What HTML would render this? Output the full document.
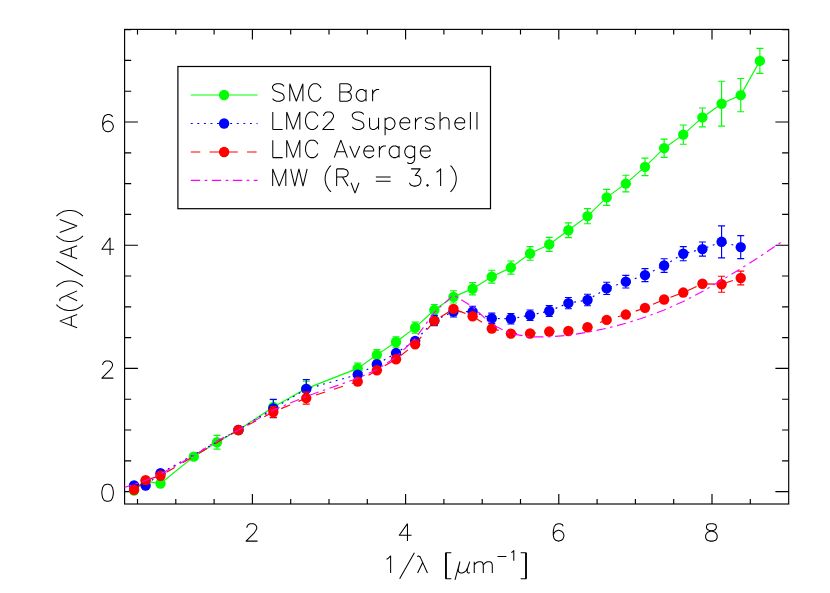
<!DOCTYPE html>
<html><head><meta charset="utf-8"><title>Extinction curves</title>
<style>html,body{margin:0;padding:0;background:#fff;font-family:"Liberation Sans",sans-serif}svg{display:block}</style>
</head><body>
<svg width="830" height="593" viewBox="0 0 830 593">
<rect x="0" y="0" width="830" height="593" fill="#fff"/>
<g stroke="#000" stroke-width="1.15" fill="none" stroke-linecap="butt">
<rect x="124.6" y="29.4" width="664.1" height="474.6"/>
<path d="M137.5 504v-5M137.5 29.4v5M175.8 504v-5M175.8 29.4v5M214.1 504v-5M214.1 29.4v5M252.4 504v-10M252.4 29.4v10M290.7 504v-5M290.7 29.4v5M329 504v-5M329 29.4v5M367.3 504v-5M367.3 29.4v5M405.6 504v-10M405.6 29.4v10M443.9 504v-5M443.9 29.4v5M482.2 504v-5M482.2 29.4v5M520.5 504v-5M520.5 29.4v5M558.8 504v-10M558.8 29.4v10M597.1 504v-5M597.1 29.4v5M635.4 504v-5M635.4 29.4v5M673.7 504v-5M673.7 29.4v5M712 504v-10M712 29.4v10M750.3 504v-5M750.3 29.4v5M124.6 491.6h13.3M788.7 491.6h-13.3M124.6 460.8h6.6M788.7 460.8h-6.6M124.6 430h6.6M788.7 430h-6.6M124.6 399.2h6.6M788.7 399.2h-6.6M124.6 368.4h13.3M788.7 368.4h-13.3M124.6 337.6h6.6M788.7 337.6h-6.6M124.6 306.8h6.6M788.7 306.8h-6.6M124.6 276h6.6M788.7 276h-6.6M124.6 245.2h13.3M788.7 245.2h-13.3M124.6 214.4h6.6M788.7 214.4h-6.6M124.6 183.6h6.6M788.7 183.6h-6.6M124.6 152.8h6.6M788.7 152.8h-6.6M124.6 122h13.3M788.7 122h-13.3M124.6 91.2h6.6M788.7 91.2h-6.6M124.6 60.4h6.6M788.7 60.4h-6.6M124.6 29.6h6.6M788.7 29.6h-6.6"/>
</g>
<defs><clipPath id="c"><rect x="124.6" y="29.4" width="664.1" height="474.6"/></clipPath></defs>
<g clip-path="url(#c)">
<g stroke="#00ff00" fill="none" stroke-width="1.15">
<polyline points="134.05,490.61 145.62,481.19 160.48,483.53 193.8,456.67 217.01,442.26 238.46,430 273.31,406.96 306.25,388.6 357.72,368.4 376.87,354.85 396.02,342.04 415.17,327.68 434.32,310.06 453.47,296.88 472.62,288.75 491.77,276.68 510.92,267.56 530.07,253.45 549.23,244.4 568.38,230.23 587.52,216.12 606.67,197.4 625.83,183.6 644.98,166.84 664.12,148.18 683.27,134.63 702.42,117.44 721.58,103.7 740.73,95.14 759.88,60.89"/>
<path d="M217.01 435.36V449.16M213.51 435.36H220.51M213.51 449.16H220.51M273.31 399.57V414.35M269.81 399.57H276.81M269.81 414.35H276.81M306.25 381.21V396M302.75 381.21H309.75M302.75 396H309.75M357.72 363.16V373.64M354.22 363.16H361.22M354.22 373.64H361.22M376.87 349.67V360.02M373.37 349.67H380.37M373.37 360.02H380.37M396.02 336.86V347.21M392.52 336.86H399.52M392.52 347.21H399.52M415.17 322.14V333.23M411.67 322.14H418.67M411.67 333.23H418.67M434.32 304.46V315.67M430.82 304.46H437.82M430.82 315.67H437.82M453.47 290.78V302.98M449.97 290.78H456.97M449.97 302.98H456.97M472.62 282.59V294.91M469.12 282.59H476.12M469.12 294.91H476.12M491.77 270.27V283.08M488.27 270.27H495.27M488.27 283.08H495.27M510.92 260.97V274.15M507.42 260.97H514.42M507.42 274.15H514.42M530.07 246.62V260.29M526.57 246.62H533.57M526.57 260.29H533.57M549.23 237.44V251.36M545.73 237.44H552.73M545.73 251.36H552.73M568.38 222.9V237.56M564.88 222.9H571.88M564.88 237.56H571.88M587.52 208.55V223.7M584.02 208.55H591.02M584.02 223.7H591.02M606.67 189.39V205.41M603.17 189.39H610.17M603.17 205.41H610.17M625.83 175.28V191.92M622.33 175.28H629.33M622.33 191.92H629.33M644.98 158.1V175.59M641.48 158.1H648.48M641.48 175.59H648.48M664.12 139.06V157.3M660.62 139.06H667.62M660.62 157.3H667.62M683.27 125.02V144.24M679.77 125.02H686.77M679.77 144.24H686.77M702.42 107.96V126.93M698.92 107.96H705.92M698.92 126.93H705.92M721.58 81.22V126.19M718.08 81.22H725.08M718.08 126.19H725.08M740.73 78.51V111.77M737.23 78.51H744.23M737.23 111.77H744.23M759.88 48.39V73.4M756.38 48.39H763.38M756.38 73.4H763.38"/>
</g>
<g fill="#00ff00">
<circle cx="134.05" cy="490.61" r="5.2"/>
<circle cx="145.62" cy="481.19" r="5.2"/>
<circle cx="160.48" cy="483.53" r="5.2"/>
<circle cx="193.8" cy="456.67" r="5.2"/>
<circle cx="217.01" cy="442.26" r="5.2"/>
<circle cx="238.46" cy="430" r="5.2"/>
<circle cx="273.31" cy="406.96" r="5.2"/>
<circle cx="306.25" cy="388.6" r="5.2"/>
<circle cx="357.72" cy="368.4" r="5.2"/>
<circle cx="376.87" cy="354.85" r="5.2"/>
<circle cx="396.02" cy="342.04" r="5.2"/>
<circle cx="415.17" cy="327.68" r="5.2"/>
<circle cx="434.32" cy="310.06" r="5.2"/>
<circle cx="453.47" cy="296.88" r="5.2"/>
<circle cx="472.62" cy="288.75" r="5.2"/>
<circle cx="491.77" cy="276.68" r="5.2"/>
<circle cx="510.92" cy="267.56" r="5.2"/>
<circle cx="530.07" cy="253.45" r="5.2"/>
<circle cx="549.23" cy="244.4" r="5.2"/>
<circle cx="568.38" cy="230.23" r="5.2"/>
<circle cx="587.52" cy="216.12" r="5.2"/>
<circle cx="606.67" cy="197.4" r="5.2"/>
<circle cx="625.83" cy="183.6" r="5.2"/>
<circle cx="644.98" cy="166.84" r="5.2"/>
<circle cx="664.12" cy="148.18" r="5.2"/>
<circle cx="683.27" cy="134.63" r="5.2"/>
<circle cx="702.42" cy="117.44" r="5.2"/>
<circle cx="721.58" cy="103.7" r="5.2"/>
<circle cx="740.73" cy="95.14" r="5.2"/>
<circle cx="759.88" cy="60.89" r="5.2"/>
</g>
<g stroke="#0000ff" fill="none" stroke-width="1.15">
<polyline points="134.05,485.38 145.62,485.62 160.48,473.18 238.46,430 273.31,408.5 306.25,389.04 357.72,374.62 376.87,364.27 396.02,353.06 415.17,340.86 434.32,320.54 453.47,311.6 472.62,311.67 491.77,318.38 510.92,318.81 530.07,315.24 549.23,310.99 568.38,303.1 587.52,300.02 606.67,288.38 625.83,281.67 644.98,275.08 664.12,265.53 683.27,253.7 702.42,249.08 721.58,241.81 740.73,247.11" stroke-dasharray="1.9 4.67" stroke-dashoffset="0"/>
<path d="M273.31 399.32V417.68M269.81 399.32H276.81M269.81 417.68H276.81M306.25 379.67V398.4M302.75 379.67H309.75M302.75 398.4H309.75M434.32 315.4V325.67M430.82 315.4H437.82M430.82 325.67H437.82M453.47 306.2V317M449.97 306.2H456.97M449.97 317H456.97M472.62 306.27V317.06M469.12 306.27H476.12M469.12 317.06H476.12M491.77 313.18V323.58M488.27 313.18H495.27M488.27 323.58H495.27M510.92 313.63V324M507.42 313.63H514.42M507.42 324H514.42M530.07 309.95V320.53M526.57 309.95H533.57M526.57 320.53H533.57M549.23 305.57V316.41M545.73 305.57H552.73M545.73 316.41H552.73M568.38 297.45V308.76M564.88 297.45H571.88M564.88 308.76H571.88M587.52 294.28V305.77M584.02 294.28H591.02M584.02 305.77H591.02M606.67 282.29V294.48M603.17 282.29H610.17M603.17 294.48H610.17M625.83 275.37V287.97M622.33 275.37H629.33M622.33 287.97H629.33M644.98 268.58V281.57M641.48 268.58H648.48M641.48 281.57H648.48M664.12 258.75V272.31M660.62 258.75H667.62M660.62 272.31H667.62M683.27 246.62V260.78M679.77 246.62H686.77M679.77 260.78H686.77M702.42 242V256.16M698.92 242H705.92M698.92 256.16H705.92M721.58 225.8V257.83M718.08 225.8H725.08M718.08 257.83H725.08M740.73 235.65V258.57M737.23 235.65H744.23M737.23 258.57H744.23"/>
</g>
<g fill="#0000ff">
<circle cx="134.05" cy="485.38" r="5.2"/>
<circle cx="145.62" cy="485.62" r="5.2"/>
<circle cx="160.48" cy="473.18" r="5.2"/>
<circle cx="238.46" cy="430" r="5.2"/>
<circle cx="273.31" cy="408.5" r="5.2"/>
<circle cx="306.25" cy="389.04" r="5.2"/>
<circle cx="357.72" cy="374.62" r="5.2"/>
<circle cx="376.87" cy="364.27" r="5.2"/>
<circle cx="396.02" cy="353.06" r="5.2"/>
<circle cx="415.17" cy="340.86" r="5.2"/>
<circle cx="434.32" cy="320.54" r="5.2"/>
<circle cx="453.47" cy="311.6" r="5.2"/>
<circle cx="472.62" cy="311.67" r="5.2"/>
<circle cx="491.77" cy="318.38" r="5.2"/>
<circle cx="510.92" cy="318.81" r="5.2"/>
<circle cx="530.07" cy="315.24" r="5.2"/>
<circle cx="549.23" cy="310.99" r="5.2"/>
<circle cx="568.38" cy="303.1" r="5.2"/>
<circle cx="587.52" cy="300.02" r="5.2"/>
<circle cx="606.67" cy="288.38" r="5.2"/>
<circle cx="625.83" cy="281.67" r="5.2"/>
<circle cx="644.98" cy="275.08" r="5.2"/>
<circle cx="664.12" cy="265.53" r="5.2"/>
<circle cx="683.27" cy="253.7" r="5.2"/>
<circle cx="702.42" cy="249.08" r="5.2"/>
<circle cx="721.58" cy="241.81" r="5.2"/>
<circle cx="740.73" cy="247.11" r="5.2"/>
</g>
<g stroke="#ff0000" fill="none" stroke-width="1.15">
<polyline points="134.05,489.75 145.62,480.14 160.48,475.77 238.46,430 273.31,411.95 306.25,398.09 357.72,381.58 376.87,370.31 396.02,359.22 415.17,344.31 434.32,320.91 453.47,308.83 472.62,316.29 491.77,328.61 510.92,333.6 530.07,333.53 549.23,331.56 568.38,331.01 587.52,327.25 606.67,319.92 625.83,314.56 644.98,307.85 664.12,299.53 683.27,292.57 702.42,283.76 721.58,284.25 740.73,278.03" stroke-dasharray="9.5 9.25" stroke-dashoffset="0"/>
<path d="M273.31 406.53V417.37M269.81 406.53H276.81M269.81 417.37H276.81M306.25 392.12V404.07M302.75 392.12H309.75M302.75 404.07H309.75M721.58 276.25V292.26M718.08 276.25H725.08M718.08 292.26H725.08M740.73 271.13V284.93M737.23 271.13H744.23M737.23 284.93H744.23"/>
</g>
<g fill="#ff0000">
<circle cx="134.05" cy="489.75" r="5.2"/>
<circle cx="145.62" cy="480.14" r="5.2"/>
<circle cx="160.48" cy="475.77" r="5.2"/>
<circle cx="238.46" cy="430" r="5.2"/>
<circle cx="273.31" cy="411.95" r="5.2"/>
<circle cx="306.25" cy="398.09" r="5.2"/>
<circle cx="357.72" cy="381.58" r="5.2"/>
<circle cx="376.87" cy="370.31" r="5.2"/>
<circle cx="396.02" cy="359.22" r="5.2"/>
<circle cx="415.17" cy="344.31" r="5.2"/>
<circle cx="434.32" cy="320.91" r="5.2"/>
<circle cx="453.47" cy="308.83" r="5.2"/>
<circle cx="472.62" cy="316.29" r="5.2"/>
<circle cx="491.77" cy="328.61" r="5.2"/>
<circle cx="510.92" cy="333.6" r="5.2"/>
<circle cx="530.07" cy="333.53" r="5.2"/>
<circle cx="549.23" cy="331.56" r="5.2"/>
<circle cx="568.38" cy="331.01" r="5.2"/>
<circle cx="587.52" cy="327.25" r="5.2"/>
<circle cx="606.67" cy="319.92" r="5.2"/>
<circle cx="625.83" cy="314.56" r="5.2"/>
<circle cx="644.98" cy="307.85" r="5.2"/>
<circle cx="664.12" cy="299.53" r="5.2"/>
<circle cx="683.27" cy="292.57" r="5.2"/>
<circle cx="702.42" cy="283.76" r="5.2"/>
<circle cx="721.58" cy="284.25" r="5.2"/>
<circle cx="740.73" cy="278.03" r="5.2"/>
</g>
<polyline points="122.18,488.02 134.05,484.6 145.62,480.49 160.48,474.22 193.8,455.64 217.01,440.65 238.46,430.08 273.31,410 306.25,396.39 357.72,378.34 376.87,369.53 396.02,357.27 415.17,338.65 434.32,312.36 453.47,294.95 472.62,306.85 491.77,324.41 510.92,333.66 530.07,336.87 549.23,336.92 568.38,335.22 587.52,332.26 606.67,328.27 625.83,323.27 644.98,317.21 664.12,309.99 683.27,301.5 702.42,291.59 721.58,280.31 740.73,268.67 759.88,256.57 781.71,241.86" fill="none" stroke="#ff00ff" stroke-width="1.15" stroke-dasharray="9.4 4.5 2.6 4.5"/>
</g>
<path d="M246.88 527.82 L246.88 526.99 L247.7 525.33 L248.52 524.5 L250.16 523.67 L253.44 523.67 L255.08 524.5 L255.9 525.33 L256.72 526.99 L256.72 528.65 L255.9 530.31 L254.26 532.8 L246.06 541.1 L257.54 541.1M407.46 523.67 L399.26 535.29 L411.56 535.29M407.46 523.67 L407.46 541.1M563.12 526.16 L562.3 524.5 L559.84 523.67 L558.2 523.67 L555.74 524.5 L554.1 526.99 L553.28 531.14 L553.28 535.29 L554.1 538.61 L555.74 540.27 L558.2 541.1 L559.02 541.1 L561.48 540.27 L563.12 538.61 L563.94 536.12 L563.94 535.29 L563.12 532.8 L561.48 531.14 L559.02 530.31 L558.2 530.31 L555.74 531.14 L554.1 532.8 L553.28 535.29M709.76 523.67 L707.3 524.5 L706.48 526.16 L706.48 527.82 L707.3 529.48 L708.94 530.31 L712.22 531.14 L714.68 531.97 L716.32 533.63 L717.14 535.29 L717.14 537.78 L716.32 539.44 L715.5 540.27 L713.04 541.1 L709.76 541.1 L707.3 540.27 L706.48 539.44 L705.66 537.78 L705.66 535.29 L706.48 533.63 L708.12 531.97 L710.58 531.14 L713.86 530.31 L715.5 529.48 L716.32 527.82 L716.32 526.16 L715.5 524.5 L713.04 523.67 L709.76 523.67M106.78 484.19 L104.32 485 L102.68 487.44 L101.86 491.52 L101.86 493.97 L102.68 498.04 L104.32 500.49 L106.78 501.3 L108.42 501.3 L110.88 500.49 L112.52 498.04 L113.34 493.97 L113.34 491.52 L112.52 487.44 L110.88 485 L108.42 484.19 L106.78 484.19M102.68 365.06 L102.68 364.25 L103.5 362.62 L104.32 361.8 L105.96 360.99 L109.24 360.99 L110.88 361.8 L111.7 362.62 L112.52 364.25 L112.52 365.88 L111.7 367.5 L110.06 369.95 L101.86 378.1 L113.34 378.1M110.06 237.78 L101.86 249.19 L114.16 249.19M110.06 237.78 L110.06 254.9M112.52 117.03 L111.7 115.4 L109.24 114.58 L107.6 114.58 L105.14 115.4 L103.5 117.84 L102.68 121.92 L102.68 125.99 L103.5 129.25 L105.14 130.88 L107.6 131.7 L108.42 131.7 L110.88 130.88 L112.52 129.25 L113.34 126.81 L113.34 125.99 L112.52 123.55 L110.88 121.92 L108.42 121.1 L107.6 121.1 L105.14 121.92 L103.5 123.55 L102.68 125.99M386.52 559.23 L388.16 558.42 L390.62 555.99 L390.62 573M414.4 552.75 L399.64 578.67M417.19 556.39 L418.42 555.99 L419.65 556.39 L420.47 557.61 L427.44 573M422.68 562.47 L417.6 573M445.56 552.75 L445.56 578.67M446.38 552.75 L446.38 578.67M445.56 552.75 L451.3 552.75M445.56 578.67 L451.3 578.67M459.91 561.66 L458.27 568.95M459.91 561.66 L454.99 579.88M458.27 568.95 L458.35 570.98 L459.09 572.35 L460.73 573 L462.37 573 L464.01 572.35 L466.06 570.57 L467.7 567.74M469.75 561.66 L467.7 567.74 L467.13 570.57 L467.29 572.19 L468.11 573 L468.93 573 L469.75 572.51M474.26 561.66 L474.26 573M474.26 564.9 L476.72 562.47 L478.36 561.66 L480.82 561.66 L482.46 562.47 L483.28 564.9 L483.28 573M483.28 564.9 L485.74 562.47 L487.38 561.66 L489.84 561.66 L491.48 562.47 L492.3 564.9 L492.3 573M497.55 556.43 L506.4 556.43M511.32 552.54 L512.31 552.05 L513.78 550.59 L513.78 560.8M525.59 552.75 L525.59 578.67M526.41 552.75 L526.41 578.67M520.67 552.75 L526.41 552.75M520.67 578.67 L526.41 578.67M59.72 321.12 L77.15 327.68M59.72 321.12 L77.15 314.56M71.34 325.22 L71.34 317.02M56.4 304.72 L58.06 306.36 L60.55 308 L63.87 309.64 L68.02 310.46 L71.34 310.46 L75.49 309.64 L78.81 308 L81.3 306.36 L82.96 304.72M60.14 301.11 L59.72 299.88 L60.14 298.65 L61.38 297.83 L77.15 290.86M66.36 295.62 L77.15 300.7M56.4 286.68 L58.06 285.04 L60.55 283.4 L63.87 281.76 L68.02 280.94 L71.34 280.94 L75.49 281.76 L78.81 283.4 L81.3 285.04 L82.96 286.68M56.4 261.26 L82.96 276.02M59.72 252.24 L77.15 258.8M59.72 252.24 L77.15 245.68M71.34 256.34 L71.34 248.14M56.4 235.84 L58.06 237.48 L60.55 239.12 L63.87 240.76 L68.02 241.58 L71.34 241.58 L75.49 240.76 L78.81 239.12 L81.3 237.48 L82.96 235.84M59.72 232.56 L77.15 226M59.72 219.44 L77.15 226M56.4 216.16 L58.06 214.52 L60.55 212.88 L63.87 211.24 L68.02 210.42 L71.34 210.42 L75.49 211.24 L78.81 212.88 L81.3 214.52 L82.96 216.16M284.04 86.26 L282.4 84.6 L279.94 83.77 L276.66 83.77 L274.2 84.6 L272.56 86.26 L272.56 87.92 L273.38 89.58 L274.2 90.41 L275.84 91.24 L280.76 92.9 L282.4 93.73 L283.22 94.56 L284.04 96.22 L284.04 98.71 L282.4 100.37 L279.94 101.2 L276.66 101.2 L274.2 100.37 L272.56 98.71M289.78 83.77 L289.78 101.2M289.78 83.77 L296.34 101.2M302.9 83.77 L296.34 101.2M302.9 83.77 L302.9 101.2M320.94 87.92 L320.12 86.26 L318.48 84.6 L316.84 83.77 L313.56 83.77 L311.92 84.6 L310.28 86.26 L309.46 87.92 L308.64 90.41 L308.64 94.56 L309.46 97.05 L310.28 98.71 L311.92 100.37 L313.56 101.2 L316.84 101.2 L318.48 100.37 L320.12 98.71 L320.94 97.05M339.8 83.77 L339.8 101.2M339.8 83.77 L347.18 83.77 L349.64 84.6 L350.46 85.43 L351.28 87.09 L351.28 88.75 L350.46 90.41 L349.64 91.24 L347.18 92.07M339.8 92.07 L347.18 92.07 L349.64 92.9 L350.46 93.73 L351.28 95.39 L351.28 97.88 L350.46 99.54 L349.64 100.37 L347.18 101.2 L339.8 101.2M366.04 89.58 L366.04 101.2M366.04 92.07 L364.4 90.41 L362.76 89.58 L360.3 89.58 L358.66 90.41 L357.02 92.07 L356.2 94.56 L356.2 96.22 L357.02 98.71 L358.66 100.37 L360.3 101.2 L362.76 101.2 L364.4 100.37 L366.04 98.71M372.6 89.58 L372.6 101.2M372.6 94.56 L373.42 92.07 L375.06 90.41 L376.7 89.58 L379.16 89.58M272.78 111.97 L272.78 129.4M272.78 129.4 L282.62 129.4M286.72 111.97 L286.72 129.4M286.72 111.97 L293.28 129.4M299.84 111.97 L293.28 129.4M299.84 111.97 L299.84 129.4M317.88 116.12 L317.06 114.46 L315.42 112.8 L313.78 111.97 L310.5 111.97 L308.86 112.8 L307.22 114.46 L306.4 116.12 L305.58 118.61 L305.58 122.76 L306.4 125.25 L307.22 126.91 L308.86 128.57 L310.5 129.4 L313.78 129.4 L315.42 128.57 L317.06 126.91 L317.88 125.25M323.62 116.12 L323.62 115.29 L324.44 113.63 L325.26 112.8 L326.9 111.97 L330.18 111.97 L331.82 112.8 L332.64 113.63 L333.46 115.29 L333.46 116.95 L332.64 118.61 L331 121.1 L322.8 129.4 L334.28 129.4M363.8 114.46 L362.16 112.8 L359.7 111.97 L356.42 111.97 L353.96 112.8 L352.32 114.46 L352.32 116.12 L353.14 117.78 L353.96 118.61 L355.6 119.44 L360.52 121.1 L362.16 121.93 L362.98 122.76 L363.8 124.42 L363.8 126.91 L362.16 128.57 L359.7 129.4 L356.42 129.4 L353.96 128.57 L352.32 126.91M369.54 117.78 L369.54 126.08 L370.36 128.57 L372 129.4 L374.46 129.4 L376.1 128.57 L378.56 126.08M378.56 117.78 L378.56 129.4M385.12 117.78 L385.12 135.21M385.12 120.27 L386.76 118.61 L388.4 117.78 L390.86 117.78 L392.5 118.61 L394.14 120.27 L394.96 122.76 L394.96 124.42 L394.14 126.91 L392.5 128.57 L390.86 129.4 L388.4 129.4 L386.76 128.57 L385.12 126.91M399.88 122.76 L409.72 122.76 L409.72 121.1 L408.9 119.44 L408.08 118.61 L406.44 117.78 L403.98 117.78 L402.34 118.61 L400.7 120.27 L399.88 122.76 L399.88 124.42 L400.7 126.91 L402.34 128.57 L403.98 129.4 L406.44 129.4 L408.08 128.57 L409.72 126.91M415.46 117.78 L415.46 129.4M415.46 122.76 L416.28 120.27 L417.92 118.61 L419.56 117.78 L422.02 117.78M434.32 120.27 L433.5 118.61 L431.04 117.78 L428.58 117.78 L426.12 118.61 L425.3 120.27 L426.12 121.93 L427.76 122.76 L431.86 123.59 L433.5 124.42 L434.32 126.08 L434.32 126.91 L433.5 128.57 L431.04 129.4 L428.58 129.4 L426.12 128.57 L425.3 126.91M440.06 111.97 L440.06 129.4M440.06 121.1 L442.52 118.61 L444.16 117.78 L446.62 117.78 L448.26 118.61 L449.08 121.1 L449.08 129.4M454.82 122.76 L464.66 122.76 L464.66 121.1 L463.84 119.44 L463.02 118.61 L461.38 117.78 L458.92 117.78 L457.28 118.61 L455.64 120.27 L454.82 122.76 L454.82 124.42 L455.64 126.91 L457.28 128.57 L458.92 129.4 L461.38 129.4 L463.02 128.57 L464.66 126.91M470.4 111.97 L470.4 129.4M476.96 111.97 L476.96 129.4M272.78 140.17 L272.78 157.6M272.78 157.6 L282.62 157.6M286.72 140.17 L286.72 157.6M286.72 140.17 L293.28 157.6M299.84 140.17 L293.28 157.6M299.84 140.17 L299.84 157.6M317.88 144.32 L317.06 142.66 L315.42 141 L313.78 140.17 L310.5 140.17 L308.86 141 L307.22 142.66 L306.4 144.32 L305.58 146.81 L305.58 150.96 L306.4 153.45 L307.22 155.11 L308.86 156.77 L310.5 157.6 L313.78 157.6 L315.42 156.77 L317.06 155.11 L317.88 153.45M340.84 140.17 L334.28 157.6M340.84 140.17 L347.4 157.6M336.74 151.79 L344.94 151.79M349.86 145.98 L354.78 157.6M359.7 145.98 L354.78 157.6M363.8 150.96 L373.64 150.96 L373.64 149.3 L372.82 147.64 L372 146.81 L370.36 145.98 L367.9 145.98 L366.26 146.81 L364.62 148.47 L363.8 150.96 L363.8 152.62 L364.62 155.11 L366.26 156.77 L367.9 157.6 L370.36 157.6 L372 156.77 L373.64 155.11M379.38 145.98 L379.38 157.6M379.38 150.96 L380.2 148.47 L381.84 146.81 L383.48 145.98 L385.94 145.98M399.06 145.98 L399.06 157.6M399.06 148.47 L397.42 146.81 L395.78 145.98 L393.32 145.98 L391.68 146.81 L390.04 148.47 L389.22 150.96 L389.22 152.62 L390.04 155.11 L391.68 156.77 L393.32 157.6 L395.78 157.6 L397.42 156.77 L399.06 155.11M414.64 145.98 L414.64 159.26 L413.82 161.75 L413 162.58 L411.36 163.41 L408.9 163.41 L407.26 162.58M414.64 148.47 L413 146.81 L411.36 145.98 L408.9 145.98 L407.26 146.81 L405.62 148.47 L404.8 150.96 L404.8 152.62 L405.62 155.11 L407.26 156.77 L408.9 157.6 L411.36 157.6 L413 156.77 L414.64 155.11M420.38 150.96 L430.22 150.96 L430.22 149.3 L429.4 147.64 L428.58 146.81 L426.94 145.98 L424.48 145.98 L422.84 146.81 L421.2 148.47 L420.38 150.96 L420.38 152.62 L421.2 155.11 L422.84 156.77 L424.48 157.6 L426.94 157.6 L428.58 156.77 L430.22 155.11M272.68 168.88 L272.68 186.1M272.68 168.88 L279.24 186.1M285.8 168.88 L279.24 186.1M285.8 168.88 L285.8 186.1M290.72 168.88 L294.82 186.1M298.92 168.88 L294.82 186.1M298.92 168.88 L303.02 186.1M307.12 168.88 L303.02 186.1M330.9 165.6 L329.26 167.24 L327.62 169.7 L325.98 172.98 L325.16 177.08 L325.16 180.36 L325.98 184.46 L327.62 187.74 L329.26 190.2 L330.9 191.84M336.64 168.88 L336.64 186.1M336.64 168.88 L344.02 168.88 L346.48 169.7 L347.3 170.52 L348.12 172.16 L348.12 173.8 L347.3 175.44 L346.48 176.26 L344.02 177.08 L336.64 177.08M342.38 177.08 L348.12 186.1M351.07 182.77 L355.01 193.1M358.94 182.77 L355.01 193.1M375.84 177.08 L390.6 177.08M375.84 181.34 L390.6 181.34M411.1 168.88 L420.12 168.88 L415.2 175.44 L417.66 175.44 L419.3 176.26 L420.12 177.08 L420.94 179.54 L420.94 181.18 L420.12 183.64 L418.48 185.28 L416.02 186.1 L413.56 186.1 L411.1 185.28 L410.28 184.46 L409.46 182.82M427.5 184.46 L426.68 185.28 L427.5 186.1 L428.32 185.28 L427.5 184.46M436.52 172.16 L438.16 171.34 L440.62 168.88 L440.62 186.1M450.46 165.6 L452.1 167.24 L453.74 169.7 L455.38 172.98 L456.2 177.08 L456.2 180.36 L455.38 184.46 L453.74 187.74 L452.1 190.2 L450.46 191.84" fill="none" stroke="#000" stroke-width="1.05" stroke-linecap="butt" stroke-linejoin="round"/>
<rect x="177.9" y="66.5" width="312.6" height="142.2" fill="none" stroke="#000" stroke-width="1.2"/>
<line x1="190.8" y1="95.0" x2="257.6" y2="95.0" stroke="#00ff00" stroke-width="1.15"/>
<circle cx="224.1" cy="95.0" r="5.2" fill="#00ff00"/>
<line x1="190.8" y1="123.5" x2="257.6" y2="123.5" stroke="#0000ff" stroke-width="1.15" stroke-dasharray="1.9 4.67"/>
<circle cx="224.1" cy="123.5" r="5.2" fill="#0000ff"/>
<line x1="190.8" y1="152.0" x2="257.6" y2="152.0" stroke="#ff0000" stroke-width="1.15" stroke-dasharray="9.5 9.25"/>
<circle cx="224.1" cy="152.0" r="5.2" fill="#ff0000"/>
<line x1="190.8" y1="180.4" x2="257.6" y2="180.4" stroke="#ff00ff" stroke-width="1.15" stroke-dasharray="9.4 4.5 2.6 4.5"/>
</svg>
</body></html>
